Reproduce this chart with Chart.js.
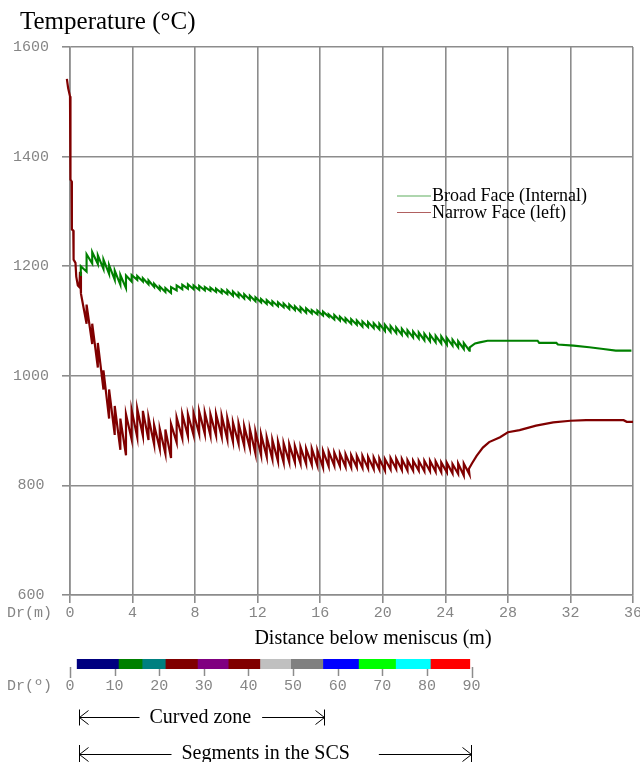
<!DOCTYPE html>
<html>
<head>
<meta charset="utf-8">
<script src="https://cdn.jsdelivr.net/npm/chart.js@4.4.1/dist/chart.umd.min.js"></script>
<style>
  html, body { margin:0; padding:0; background:#fff; }
  #wrap { position:relative; width:640px; height:762px; overflow:hidden; background:#fff; }
  #main { position:absolute; left:0; top:0; }
  #scale { position:absolute; left:0; top:655px; }
</style>
</head>
<body>
<div id="wrap">
  <canvas id="main" width="640" height="655"></canvas>
  <canvas id="scale" width="640" height="107"></canvas>
</div>
<script>
/* surface temperature along the strand, broad vs narrow face.
   the roll-pitch ripple is a list of alternating peak / trough values on a
   fixed grid (zigStart, zigStep); the meniscus drop and the air-cooling tail
   are plain [m, degC] pairs */
const xTicks = { min: 0, max: 36, step: 4 };
const yTicks = { min: 600, max: 1600, step: 200 };
const zigStart = 0.7, zigStep = 0.18;

const narrowHead = [[-0.2,1542],[-0.12,1525],[0,1510],[0.03,1358],[0.1,1355],[0.12,1267],[0.21,1265],
  [0.23,1212],[0.35,1206],[0.4,1181],[0.5,1165],[0.6,1162],[0.64,1190]];
const narrowZig = [1150,1095,1130,1058,1095,1015,1060,975,1010,922,
  975,892,945,865,922,855,930,884,938,888,
  940,891,936,883,924,875,910,867,903,858,
  902,850,912,878,924,886,930,890,930,892,
  932,894,935,894,933,891,930,891,930,889,
  927,884,923,880,915,876,913,872,908,868,
  903,858,898,855,893,852,888,848,883,844,
  880,842,877,842,875,842,872,840,870,839,
  867,838,867,836,864,833,863,835,862,836,
  860,835,858,834,857,833,855,833,854,832,
  854,831,852,830,851,829,849,827,848,829,
  850,830,849,828,848,827,846,827,845,827,
  845,826,845,826,845,825,844,824,842,824,
  841,822,839,821,840,818,840,820];
const narrowTail = [[25.5,830],[25.7,840],[26.0,854],[26.4,869],[26.8,879],[27.5,888],[28.0,897],
  [28.75,901],[29.8,909],[30.9,915],[32.0,918],[33.0,919],[35.4,919],[35.6,916],[36,916]];

const broadHead = [[0.64,1184],[0.68,1187]];
const broadZig = [1200,1190,1222,1205,1226,1204,1220,1195,1212,1186,
  1202,1175,1192,1166,1184,1160,1183,1172,1184,1175,
  1182,1172,1178,1167,1174,1162,1168,1157,1163,1153,
  1160,1151,1162,1156,1165,1158,1166,1159,1167,1158,
  1165,1157,1164,1156,1162,1155,1161,1153,1159,1151,
  1157,1149,1156,1146,1154,1144,1151,1141,1149,1139,
  1146,1136,1143,1134,1140,1131,1138,1129,1136,1127,
  1134,1125,1132,1122,1130,1120,1127,1117,1125,1115,
  1123,1114,1120,1112,1119,1110,1117,1108,1112,1103,
  1111,1101,1108,1098,1105,1095,1103,1093,1101,1090,
  1099,1089,1098,1087,1096,1085,1095,1082,1093,1080,
  1091,1078,1088,1075,1086,1073,1083,1070,1081,1068,
  1079,1065,1077,1063,1075,1061,1073,1059,1072,1057,
  1069,1055,1066,1052,1063,1049,1060,1046];
const broadTail = [[25.56,1052],[25.9,1059],[26.2,1061],[26.7,1064],[29.9,1064],[30.0,1060],[31.1,1060],
  [31.2,1057],[32.2,1055],[33.2,1052],[34.1,1049],[34.9,1046],[35.9,1046]];

/* segment colour key, in degrees of strand arc */
const segEdges = [1.6, 11, 16.3, 21.5, 28.7, 35.6, 42.7, 49.6, 56.8, 64.8, 73.1, 80.9, 89.6];
const segColors = ['#000080','#008000','#008080','#800000','#800080','#800000',
                   '#c0c0c0','#808080','#0000ff','#00ff00','#00ffff','#ff0000'];
const degTicks = { min: 0, max: 90, step: 10 };
const zones = [{ label: 'Curved zone', from: 2, to: 57 },
               { label: 'Segments in the SCS', from: 2, to: 89.9 }];

const GRID = '#8c8c8c', TICK = '#858585';
const MONO = '"Liberation Mono", "DejaVu Sans Mono", monospace';
const SERIF = '"Liberation Serif", "DejaVu Serif", serif';

// ripple: a peak sits on its grid slot, the trough after it is reached at the
// next slot, where the following peak rises straight up (saw-tooth per roll)
function pts(head, zig, tail) {
  return head.map(([x, y]) => ({ x, y }))
    .concat(zig.map((y, i) => ({ x: zigStart + zigStep * (i + (i % 2)), y })))
    .concat(tail.map(([x, y]) => ({ x, y })));
}

const mainText = {
  id: 'mainText',
  afterDraw(c) {
    const ctx = c.ctx;
    ctx.save();
    ctx.fillStyle = '#000';
    ctx.textBaseline = 'alphabetic';
    ctx.font = '25px ' + SERIF;
    ctx.fillText('Temperature (°C)', 20, 29);
    ctx.font = '20px ' + SERIF;
    ctx.textAlign = 'center';
    ctx.fillText('Distance below meniscus (m)', 373, 644);
    ctx.textAlign = 'left';
    ctx.fillStyle = TICK;
    ctx.font = '15px ' + MONO;
    ctx.textBaseline = 'middle';
    ctx.fillText('Dr(m)', 7, 613);
    // legend
    const leg = [{ ds: c.data.datasets[0], y: 196, line: '#5fae5f' },
                 { ds: c.data.datasets[1], y: 212.5, line: '#b06060' }];
    ctx.font = '18px ' + SERIF;
    ctx.textBaseline = 'alphabetic';
    leg.forEach(l => {
      ctx.strokeStyle = l.line;
      ctx.lineWidth = 1.2;
      ctx.beginPath(); ctx.moveTo(397, l.y); ctx.lineTo(431, l.y); ctx.stroke();
      ctx.fillStyle = '#000';
      ctx.fillText(l.ds.label, 432, l.y + 5);
    });
    ctx.restore();
  }
};

const plain = v => String(v);

new Chart(document.getElementById('main'), {
  type: 'line',
  data: { datasets: [
    { label: 'Broad Face (Internal)', data: pts(broadHead, broadZig, broadTail),
      borderColor: '#008000', borderWidth: 2.1, pointRadius: 0, tension: 0 },
    { label: 'Narrow Face (left)', data: pts(narrowHead, narrowZig, narrowTail),
      borderColor: '#800000', borderWidth: 2.2, pointRadius: 0, tension: 0, clip: 6 }
  ] },
  options: {
    responsive: false, animation: false, events: [],
    layout: { padding: { top: 47, right: 7, left: 0, bottom: 0 } },
    plugins: { legend: { display: false }, tooltip: { enabled: false } },
    scales: {
      x: { type: 'linear', min: xTicks.min, max: xTicks.max,
        ticks: { stepSize: xTicks.step, color: TICK, padding: 1, maxRotation: 0, callback: plain,
                 font: { family: MONO, size: 15 } },
        grid: { color: GRID, lineWidth: 1.6, tickLength: 8 },
        border: { color: GRID, width: 1.6 },
        afterFit(s) { s.height = 60; s.paddingLeft = 0; s.paddingRight = 0; } },
      y: { min: yTicks.min, max: yTicks.max,
        ticks: { stepSize: yTicks.step, color: TICK, padding: 13, crossAlign: 'center', callback: plain,
                 font: { family: MONO, size: 15 } },
        grid: { color: GRID, lineWidth: 1.6, tickLength: 8 },
        border: { color: GRID, width: 1.6 },
        afterFit(s) { s.width = 70; s.paddingTop = 0; s.paddingBottom = 0; } }
    }
  },
  plugins: [mainText]
});

/* colour key + zone arrows underneath */
const zoneRows = [{ y: 62, half: 8, leftLen: 60, gap: 10, gapR: 11, base: 6 },
                  { y: 98.6, half: 9.5, leftLen: 92, gap: 10, gapR: 29, base: 5.5 }];

const zoneArrows = {
  id: 'zoneArrows',
  afterDraw(c) {
    const ctx = c.ctx, xs = c.scales.x, area = c.chartArea;
    ctx.save();
    // tick marks under the key, the end ones a little longer
    ctx.strokeStyle = GRID;
    ctx.lineWidth = 1.5;
    xs.ticks.forEach((t, i) => {
      const px = Math.round(xs.getPixelForValue(t.value)) + 0.5;
      const end = i === 0 || i === xs.ticks.length - 1;
      ctx.beginPath();
      ctx.moveTo(px, area.bottom - (end ? 2 : 0));
      ctx.lineTo(px, area.bottom + (end ? 9 : 7));
      ctx.stroke();
    });
    ctx.fillStyle = TICK;
    ctx.font = '15px ' + MONO;
    ctx.textBaseline = 'middle';
    ctx.fillText('Dr(º)', 7, 31);
    ctx.strokeStyle = '#000';
    ctx.fillStyle = '#000';
    ctx.lineWidth = 1;
    ctx.font = '20px ' + SERIF;
    ctx.textBaseline = 'alphabetic';
    zones.forEach((z, i) => {
      const r = zoneRows[i];
      const a = Math.round(xs.getPixelForValue(z.from)) + 0.5;
      const b = Math.round(xs.getPixelForValue(z.to)) + 0.5;
      const y = Math.round(r.y) + 0.5;
      const tx = a + r.leftLen + r.gap;
      const tw = ctx.measureText(z.label).width;
      ctx.fillText(z.label, tx, r.y + r.base);
      ctx.beginPath();
      ctx.moveTo(a, y - r.half); ctx.lineTo(a, y + r.half);
      ctx.moveTo(b, y - r.half); ctx.lineTo(b, y + r.half);
      ctx.moveTo(a, y); ctx.lineTo(a + r.leftLen, y);
      ctx.moveTo(tx + tw + r.gapR, y); ctx.lineTo(b, y);
      ctx.moveTo(a + 9, y - 7); ctx.lineTo(a, y); ctx.lineTo(a + 9, y + 7);
      ctx.moveTo(b - 9, y - 7); ctx.lineTo(b, y); ctx.lineTo(b - 9, y + 7);
      ctx.stroke();
    });
    ctx.restore();
  }
};

new Chart(document.getElementById('scale'), {
  type: 'bar',
  data: { labels: ['Dr'], datasets: [{
    data: segColors.map((col, i) => ({ x: [segEdges[i], segEdges[i + 1]], y: 'Dr' })),
    backgroundColor: segColors, borderWidth: 0,
    barPercentage: 1, categoryPercentage: 1
  }] },
  options: {
    indexAxis: 'y', responsive: false, animation: false, events: [],
    layout: { padding: { top: 4, left: 70, right: 168.4, bottom: 0 } },
    plugins: { legend: { display: false }, tooltip: { enabled: false } },
    scales: {
      x: { type: 'linear', min: degTicks.min, max: degTicks.max,
        ticks: { stepSize: degTicks.step, color: TICK, padding: 0, maxRotation: 0,
                 font: { family: MONO, size: 15 } },
        grid: { display: false },
        border: { display: false },
        afterFit(s) { s.height = 93; s.paddingLeft = 0; s.paddingRight = 0; } },
      y: { display: false }
    }
  },
  plugins: [zoneArrows]
});
</script>
</body>
</html>
